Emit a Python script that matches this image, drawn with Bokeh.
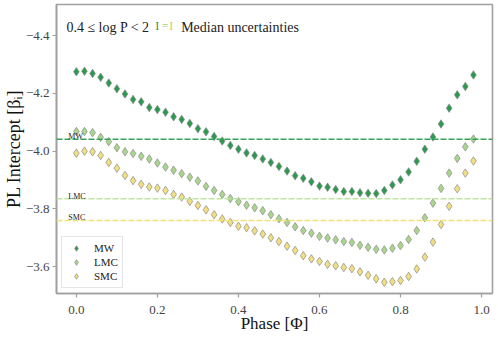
from bokeh.plotting import figure
from bokeh.models import Range1d, FixedTicker, Label, Span, Legend, LegendItem, ColumnDataSource
from bokeh.embed import file_html
from bokeh.resources import INLINE

phase = [0.00, 0.02, 0.04, 0.06, 0.08, 0.10, 0.12, 0.14, 0.16, 0.18,
         0.20, 0.22, 0.24, 0.26, 0.28, 0.30, 0.32, 0.34, 0.36, 0.38,
         0.40, 0.42, 0.44, 0.46, 0.48, 0.50, 0.52, 0.54, 0.56, 0.58,
         0.60, 0.62, 0.64, 0.66, 0.68, 0.70, 0.72, 0.74, 0.76, 0.78,
         0.80, 0.82, 0.84, 0.86, 0.88, 0.90, 0.92, 0.94, 0.96, 0.98]

mw = [-4.275, -4.277, -4.269, -4.256, -4.236, -4.216, -4.198, -4.179, -4.171, -4.151,
      -4.144, -4.135, -4.119, -4.110, -4.096, -4.078, -4.067, -4.051, -4.035, -4.020,
      -4.007, -3.994, -3.985, -3.973, -3.961, -3.947, -3.931, -3.915, -3.906, -3.894,
      -3.879, -3.875, -3.867, -3.860, -3.860, -3.856, -3.854, -3.853, -3.864, -3.883,
      -3.901, -3.928, -3.965, -4.007, -4.049, -4.094, -4.149, -4.195, -4.224, -4.264]

lmc = [-4.068, -4.068, -4.064, -4.048, -4.033, -4.012, -3.998, -3.992, -3.982, -3.973,
       -3.959, -3.945, -3.934, -3.922, -3.910, -3.897, -3.878, -3.864, -3.850, -3.836,
       -3.825, -3.813, -3.804, -3.794, -3.780, -3.766, -3.753, -3.738, -3.725, -3.716,
       -3.705, -3.699, -3.693, -3.687, -3.684, -3.674, -3.667, -3.660, -3.658, -3.664,
       -3.673, -3.694, -3.725, -3.769, -3.820, -3.871, -3.924, -3.975, -4.015, -4.042]

smc = [-3.993, -4.000, -3.998, -3.985, -3.961, -3.941, -3.916, -3.898, -3.885, -3.876,
       -3.872, -3.864, -3.850, -3.841, -3.826, -3.812, -3.797, -3.780, -3.765, -3.753,
       -3.740, -3.735, -3.724, -3.713, -3.700, -3.687, -3.671, -3.656, -3.638, -3.627,
       -3.618, -3.608, -3.603, -3.597, -3.593, -3.582, -3.570, -3.558, -3.546, -3.548,
       -3.552, -3.566, -3.592, -3.633, -3.685, -3.746, -3.809, -3.870, -3.924, -3.966]

galaxies = ["MW", "LMC", "SMC"]
global_intercepts = [-4.041, -3.835, -3.760]
colors = ["#2c9a4e", "#a9d68c", "#f1df80"]
line_colors = ["#35a355", "#bfe5a3", "#f3e27a"]

x_ticks = [0.0, 0.2, 0.4, 0.6, 0.8, 1.0]
y_ticks = [-4.4, -4.2, -4.0, -3.8, -3.6]
y_tick_labels = ["\u22124.4", "\u22124.2", "\u22124.0", "\u22123.8", "\u22123.6"]
x_tick_labels = ["0.0", "0.2", "0.4", "0.6", "0.8", "1.0"]

FONT = "Liberation Serif"
AXIS_GRAY = "#a0a0a0"

p = figure(width=498, height=337, output_backend="svg", toolbar_location=None, title=None,
           x_range=Range1d(-0.049, 1.027), y_range=Range1d(-3.507, -4.508),
           min_border_left=55, min_border_right=6, min_border_top=4, min_border_bottom=44)
p.xgrid.visible = False
p.ygrid.visible = False
p.outline_line_color = AXIS_GRAY
p.outline_line_width = 1.6
p.background_fill_color = "white"
p.border_fill_color = "white"

for ax, ticks, labels in ((p.xaxis[0], x_ticks, x_tick_labels), (p.yaxis[0], y_ticks, y_tick_labels)):
    ax.ticker = FixedTicker(ticks=ticks)
    ax.major_label_overrides = {t: l for t, l in zip(ticks, labels)}
    ax.axis_line_color = AXIS_GRAY
    ax.axis_line_width = 1.6
    ax.major_tick_line_color = AXIS_GRAY
    ax.major_tick_line_width = 1.2
    ax.major_tick_out = 4
    ax.major_tick_in = 0
    ax.minor_tick_line_color = None
    ax.major_label_text_font = FONT
    ax.major_label_text_font_size = "13px"
    ax.major_label_text_color = "#444444"
    ax.axis_label_text_font = FONT
    ax.axis_label_text_font_style = "normal"
    ax.axis_label_text_color = "#111111"

p.xaxis[0].major_label_standoff = 8
p.yaxis[0].major_label_standoff = 3
p.xaxis[0].axis_label = "Phase [\u03a6]"
p.xaxis[0].axis_label_text_font_size = "17px"
p.xaxis[0].axis_label_standoff = -3
p.yaxis[0].axis_label = "PL Intercept [\u03b2\u1d62]"
p.yaxis[0].axis_label_text_font_size = "18px"
p.yaxis[0].axis_label_standoff = -1

# reference lines
for g, v, c in zip(galaxies, global_intercepts, line_colors):
    p.add_layout(Span(location=v, dimension="width", line_color=c, line_width=1.5, line_dash="6 2"))

renderers = []
for g, ys, c in zip(galaxies, [mw, lmc, smc], colors):
    src = ColumnDataSource(dict(x=phase, y=ys))
    r = p.scatter("x", "y", source=src, marker="diamond", size=8.5, fill_color=c,
                  line_color="#8a8a8a", line_width=0.7)
    renderers.append((g, r))

# labels on the reference lines
for g, v in zip(galaxies, global_intercepts):
    p.add_layout(Label(x=-0.0197, y=v - 0.009, text=g, text_font=FONT, text_font_size="8px",
                       text_color="#222222", text_baseline="alphabetic"))

legend = Legend(items=[LegendItem(label=g, renderers=[r]) for g, r in renderers],
                location="bottom_left", margin=5, padding=4, spacing=0,
                glyph_width=20, glyph_height=14, label_height=14, label_standoff=8,
                label_text_font=FONT, label_text_font_size="11px", label_text_color="#222222",
                border_line_color="#cccccc", border_line_width=1,
                background_fill_color="white", background_fill_alpha=0.8)
p.add_layout(legend, "center")

# header text
p.add_layout(Label(x=-0.0246, y=-4.428, text="0.4 \u2264 log P < 2", text_font=FONT,
                   text_font_size="14px", text_color="#222222", text_baseline="alphabetic"))
p.add_layout(Label(x=0.1945, y=-4.435, text="I", text_font=FONT, text_font_size="12px",
                   text_color=colors[0], text_baseline="alphabetic"))
p.add_layout(Label(x=0.211, y=-4.435, text="=", text_font=FONT, text_font_size="12px",
                   text_color=colors[1], text_baseline="alphabetic"))
p.add_layout(Label(x=0.229, y=-4.435, text="I", text_font=FONT, text_font_size="12px",
                   text_color="#e2c850", text_baseline="alphabetic"))
p.add_layout(Label(x=0.2586, y=-4.428, text="Median uncertainties", text_font=FONT,
                   text_font_size="14px", text_color="#222222", text_baseline="alphabetic"))

open("out.html", "w").write(file_html(p, INLINE))
